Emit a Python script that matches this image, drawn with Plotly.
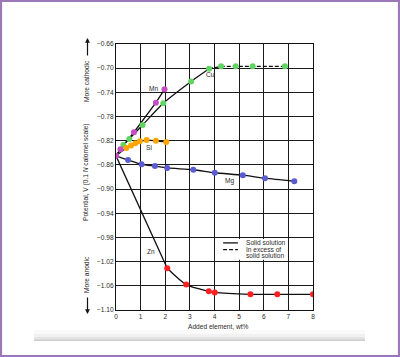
import plotly.graph_objects as go

# ---------------- data ----------------
base_x = 0.0
base_y = -0.845

cu_x = [0.30, 0.54, 1.08, 1.92, 3.05, 3.78]
cu_y = [-0.827, -0.817, -0.794, -0.758, -0.722, -0.701]
cu_excess_x = [4.27, 4.86, 5.55, 6.86]
cu_excess_y = [-0.697, -0.697, -0.697, -0.697]

mn_x = [0.18, 0.73, 1.62, 1.97]
mn_y = [-0.834, -0.806, -0.757, -0.735]

si_x = [0.42, 0.61, 0.79, 0.97, 1.24, 1.62, 2.04]
si_y = [-0.832, -0.828, -0.824, -0.821, -0.819, -0.820, -0.822]

mg_x = [0.49, 1.04, 1.58, 2.08, 3.14, 4.01, 5.15, 6.05, 7.24]
mg_y = [-0.852, -0.859, -0.862, -0.865, -0.868, -0.873, -0.877, -0.882, -0.887]

zn_x = [2.08, 2.85, 3.77, 4.01, 5.46, 6.55, 8.00]
zn_y = [-1.031, -1.058, -1.069, -1.071, -1.074, -1.074, -1.074]

x_ticks = [0, 1, 2, 3, 4, 5, 6, 7, 8]
y_ticks = [-0.66, -0.70, -0.74, -0.78, -0.82, -0.86, -0.90, -0.94, -0.98, -1.02, -1.06, -1.10]
y_tick_text = ["\u22120.66", "\u22120.70", "\u22120.74", "\u22120.78", "\u22120.82", "\u22120.86",
               "\u22120.90", "\u22120.94", "\u22120.98", "\u22121.02", "\u22121.06", "\u22121.10"]

labels = ["Cu", "Mn", "Si", "Mg", "Zn"]
label_x = [3.85, 1.54, 1.34, 4.59, 1.41]
label_y = [-0.710, -0.7335, -0.8315, -0.886, -1.004]

# ---------------- styling ----------------
W, H = 400, 357
L, R, T, B = 116, 87, 44, 47
PW, PH = W - L - R, H - T - B
FONT = "Liberation Sans, Arial, sans-serif"
FS = 6.6
TXT = "#2a2a2a"
GREEN = "#62d462"
PURPLE = "#c64fc6"
ORANGE = "#ffa500"
BLUE = "#5b5bd2"
RED = "#ff2020"
LINE_COLOR = "#111111"
LINE_W = 1.3
MS = 6


def pxx(px):
    return (px - L) / PW


def pxy(py):
    return (H - B - py) / PH


fig = go.Figure()


def line(xs, ys, shape="linear", dash="solid"):
    fig.add_trace(go.Scatter(x=xs, y=ys, mode="lines",
                             line=dict(color=LINE_COLOR, width=LINE_W, dash=dash,
                                       shape=shape, smoothing=0.7),
                             hoverinfo="skip", showlegend=False))


def dots(xs, ys, color):
    fig.add_trace(go.Scatter(x=xs, y=ys, mode="markers",
                             marker=dict(color=color, size=MS, line=dict(width=0)),
                             showlegend=False))


# lines
line([base_x] + cu_x, [base_y] + cu_y, shape="spline")
line([cu_x[-1]] + cu_excess_x, [cu_y[-1]] + cu_excess_y, dash="4px,2px")
line([base_x] + mn_x, [base_y] + mn_y)
line([base_x] + si_x, [base_y] + si_y, shape="spline")
line([base_x] + mg_x, [base_y] + mg_y, shape="spline")
line([base_x, zn_x[0]], [base_y, zn_y[0]])
line(zn_x, zn_y, shape="spline")

# markers
dots(cu_x + cu_excess_x, cu_y + cu_excess_y, GREEN)
dots(si_x, si_y, ORANGE)
dots(mg_x, mg_y, BLUE)
dots(zn_x, zn_y, RED)
dots(mn_x, mn_y, PURPLE)
dots([base_x], [base_y], PURPLE)

annotations = []
for t, x, y in zip(labels, label_x, label_y):
    annotations.append(dict(x=x, y=y, xref="x", yref="y", text=t, showarrow=False,
                            xanchor="center", yanchor="middle",
                            font=dict(family=FONT, size=FS, color=TXT)))

# legend (drawn by hand)
shapes = [
    dict(type="rect", xref="x", yref="y", x0=4.2, x1=6.95, y0=-1.017, y1=-0.9825,
         fillcolor="white", line=dict(width=0), layer="above"),
    dict(type="line", xref="x", yref="y", x0=4.35, x1=4.95, y0=-0.989, y1=-0.989,
         line=dict(color=LINE_COLOR, width=1.3), layer="above"),
    dict(type="line", xref="x", yref="y", x0=4.35, x1=4.95, y0=-1.000, y1=-1.000,
         line=dict(color=LINE_COLOR, width=1.3, dash="4px,2px"), layer="above"),
]
annotations += [
    dict(x=5.2, y=-0.989, xref="x", yref="y", text="Solid solution", showarrow=False,
         xanchor="left", yanchor="middle", font=dict(family=FONT, size=FS, color=TXT)),
    dict(x=5.2, y=-0.9995, xref="x", yref="y", text="In excess of", showarrow=False,
         xanchor="left", yanchor="middle", font=dict(family=FONT, size=FS, color=TXT)),
    dict(x=5.2, y=-1.0095, xref="x", yref="y", text="solid solution", showarrow=False,
         xanchor="left", yanchor="middle", font=dict(family=FONT, size=FS, color=TXT)),
]

# axis titles and side labels
C = dict(xanchor="center", yanchor="middle", showarrow=False, xref="paper", yref="paper")
annotations += [
    dict(x=pxx(218), y=pxy(326.5), text="Added element, wt%",
         font=dict(family=FONT, size=FS, color=TXT), **C),
    dict(x=pxx(86), y=pxy(172), text="Potential, V (0.1 <i>N</i> calomel scale)", textangle=-90,
         font=dict(family=FONT, size=FS, color=TXT), **C),
    dict(x=pxx(86), y=pxy(81), text="More cathodic", textangle=-90,
         font=dict(family=FONT, size=FS, color=TXT), **C),
    dict(x=pxx(86), y=pxy(275), text="More anodic", textangle=-90,
         font=dict(family=FONT, size=FS, color=TXT), **C),
    # arrows
    dict(x=pxx(87.5), y=pxy(38), xref="paper", yref="paper", text="", showarrow=True,
         ax=0, ay=19, arrowhead=2, arrowsize=0.8, arrowwidth=1.2, arrowcolor="#111"),
    dict(x=pxx(87.5), y=pxy(314), xref="paper", yref="paper", text="", showarrow=True,
         ax=0, ay=-18, arrowhead=2, arrowsize=0.8, arrowwidth=1.2, arrowcolor="#111"),
]

# scanned page edge (grey band) and purple frame
band = [(330, 334, "#fafafa"), (334, 337, "#f1f1f1"), (337, 339.3, "#e3e3e3"), (339.3, 341, "#cfcfcf")]
for y0, y1, c in band:
    shapes.append(dict(type="rect", xref="paper", yref="paper", x0=pxx(34), x1=pxx(365),
                       y0=pxy(y1), y1=pxy(y0), fillcolor=c, line=dict(width=0), layer="below"))
shapes.append(dict(type="rect", xref="paper", yref="paper", x0=pxx(1), x1=pxx(399),
                   y0=pxy(356), y1=pxy(1), fillcolor="rgba(0,0,0,0)",
                   line=dict(color="#9b79b8", width=2.2), layer="above"))

fig.update_layout(
    width=W, height=H,
    margin=dict(l=L, r=R, t=T, b=B, pad=0),
    paper_bgcolor="white", plot_bgcolor="white",
    showlegend=False,
    annotations=annotations,
    shapes=shapes,
    font=dict(family=FONT, size=FS, color=TXT),
)
fig.update_xaxes(range=[0, 8], tickvals=x_ticks, ticktext=[str(v) for v in x_ticks],
                 showgrid=True, gridcolor="#1a1a1a", gridwidth=1,
                 showline=True, linecolor="#111", linewidth=1.2, mirror=True,
                 ticks="", zeroline=False, tickfont=dict(family=FONT, size=FS, color=TXT),
                 fixedrange=True)
fig.update_yaxes(range=[-1.10, -0.66], tickvals=y_ticks, ticktext=y_tick_text,
                 showgrid=True, gridcolor="#1a1a1a", gridwidth=1,
                 showline=True, linecolor="#111", linewidth=1.2, mirror=True,
                 ticks="", zeroline=False, tickfont=dict(family=FONT, size=FS, color=TXT),
                 fixedrange=True)

fig.write_html("out.html", config={"displayModeBar": False},
               post_script="document.body.style.margin='0';document.body.style.overflow='hidden';")
